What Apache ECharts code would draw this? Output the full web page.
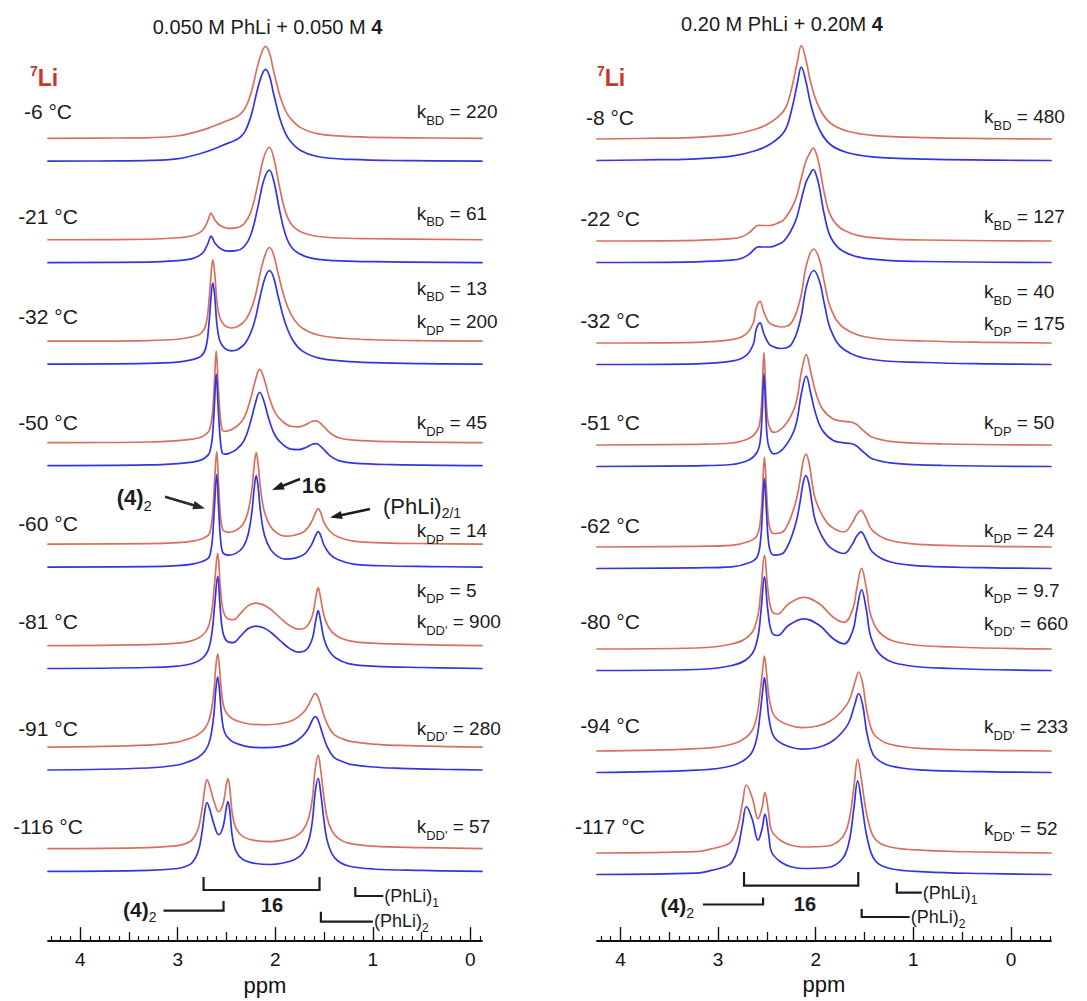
<!DOCTYPE html>
<html>
<head>
<meta charset="utf-8">
<title>7Li NMR spectra</title>
<script src="https://cdn.jsdelivr.net/npm/echarts@6.0.0/dist/echarts.min.js"></script>
<style>
html,body{margin:0;padding:0;background:#ffffff;}
#chart{width:1087px;height:1001px;}
</style>
</head>
<body>
<div id="chart"></div>
<script>
// ================= DATA =================
// Panel titles: [plain part, bold part]
const TITLE_A = ['0.050 M PhLi + 0.050 M ', '4'];
const TITLE_B = ['0.20 M PhLi + 0.20M ', '4'];

// x-axis tick labels (ppm)
const AXIS_LABELS = [0, 1, 2, 3, 4];
const MAJOR_TICKS = [0, 1, 2, 3, 4];
const MID_TICKS = [0.5, 1.5, 2.5, 3.5];

// temperatures (top to bottom)
const TEMPS_A = ['-6 °C', '-21 °C', '-32 °C', '-50 °C', '-60 °C', '-81 °C', '-91 °C', '-116 °C'];
const TEMPS_B = ['-8 °C', '-22 °C', '-32 °C', '-51 °C', '-62 °C', '-80 °C', '-94 °C', '-117 °C'];

// rate constants [subscript, value] per spectrum
const RATES_A = [[['BD', '220']], [['BD', '61']], [['BD', '13'], ['DP', '200']], [['DP', '45']],
                 [['DP', '14']], [['DP', '5'], ["DD'", '900']], [["DD'", '280']], [["DD'", '57']]];
const RATES_B = [[['BD', '480']], [['BD', '127']], [['BD', '40'], ['DP', '175']], [['DP', '50']],
                 [['DP', '24']], [['DP', '9.7'], ["DD'", '660']], [["DD'", '233']], [["DD'", '52']]];

// spectra: [ppm, intensity] pairs (intensity relative to each trace's own baseline)
// ---- left panel (0.050 M) ----
const A_M6 = [[4.33,0],[3.6,0.3],[3.28,0.7],[3.01,2.3],[2.84,5.7],[2.70,9.7],[2.56,15],[2.46,19],[2.40,21.5],[2.35,25],[2.31,30],[2.27,39],[2.23,52],[2.19,69],[2.14,86],[2.10,92.3],[2.06,86],[2.02,69],[1.98,53],[1.95,42],[1.90,29],[1.85,20.7],[1.74,10.7],[1.57,4.7],[1.23,1.7],[0.6,0.5],[-0.12,0]];
const A_M21 = [[4.33,0],[3.3,0.5],[3.0,2],[2.85,4],[2.75,9],[2.70,17],[2.68,22],[2.66,26.7],[2.64,24],[2.62,20],[2.56,14],[2.48,11.5],[2.40,12],[2.32,16],[2.25,28],[2.18,55],[2.12,82],[2.06,93],[2.01,80],[1.95,50],[1.88,24],[1.80,12],[1.65,5],[1.40,2],[1.0,1],[-0.12,0]];
const A_M32 = [[4.33,0],[3.3,0.7],[3.0,2],[2.85,4.5],[2.76,8],[2.71,17],[2.68,40],[2.66,65],[2.64,81.7],[2.62,68],[2.60,42],[2.57,24],[2.52,16],[2.45,13.3],[2.38,15],[2.30,22],[2.22,40],[2.15,70],[2.10,88],[2.06,94],[2.02,88],[1.97,68],[1.90,42],[1.82,24],[1.72,13],[1.55,6],[1.30,3],[1.0,1.5],[0.5,0.5],[-0.12,0]];
const A_M50 = [[4.33,0],[3.3,0.7],[3.0,2],[2.85,3.5],[2.75,6],[2.685,11],[2.665,16],[2.645,28],[2.625,58],[2.605,92],[2.585,58],[2.565,28],[2.545,13],[2.52,11.5],[2.48,12],[2.40,16],[2.32,25],[2.25,45],[2.20,64],[2.16,73.7],[2.12,66],[2.06,45],[2.00,30],[1.92,21],[1.84,16.5],[1.76,16],[1.68,18.5],[1.62,21.5],[1.58,22],[1.52,18],[1.44,10],[1.35,5],[1.2,2.5],[0.8,1],[-0.12,0]];
const A_M60 = [[4.33,0],[3.3,0.5],[3.0,1.5],[2.85,3],[2.75,5.5],[2.685,9],[2.665,14],[2.645,27],[2.625,58],[2.60,93],[2.58,58],[2.56,27],[2.54,15],[2.51,12.5],[2.47,12],[2.40,14],[2.33,20],[2.28,32],[2.24,55],[2.215,80],[2.195,92],[2.175,80],[2.15,55],[2.11,32],[2.05,18],[1.98,11],[1.90,8],[1.80,9],[1.70,13],[1.63,22],[1.585,32],[1.56,35.7],[1.535,32],[1.50,22],[1.44,13],[1.36,7.5],[1.2,3],[0.9,1.3],[0.4,0.5],[-0.12,0]];
const A_M81 = [[4.33,0],[3.3,1],[3.0,2.5],[2.85,5],[2.75,10],[2.69,18],[2.65,35],[2.62,65],[2.59,92.7],[2.565,62],[2.54,38],[2.50,28],[2.43,26],[2.36,32],[2.28,40],[2.20,42.7],[2.12,41],[2.04,36],[1.95,28],[1.85,20],[1.76,16.5],[1.68,19],[1.62,30],[1.585,48],[1.56,58.3],[1.535,48],[1.50,30],[1.45,18],[1.38,10.5],[1.25,5],[1.0,2.5],[0.5,1],[-0.12,0]];
const A_M91 = [[4.33,0],[3.3,2],[3.0,5],[2.9,8],[2.8,12],[2.72,19],[2.67,30],[2.63,55],[2.61,80],[2.59,93.7],[2.57,78],[2.55,55],[2.52,38],[2.46,30],[2.38,26],[2.25,23],[2.10,22.5],[1.95,23.5],[1.82,27],[1.72,34],[1.66,42],[1.62,50],[1.59,53.7],[1.56,50],[1.52,38],[1.47,24],[1.40,13],[1.30,8],[1.23,5.7],[1.0,3],[0.72,1.7],[0.2,0.5],[-0.12,0]];
const A_M116 = [[4.33,0],[3.3,1],[3.0,3],[2.92,5],[2.85,9],[2.79,20],[2.75,40],[2.72,62],[2.70,69.3],[2.67,62],[2.63,48],[2.58,37],[2.535,45],[2.50,65],[2.485,70.3],[2.465,60],[2.44,35],[2.40,20],[2.33,12],[2.20,8],[2.05,7],[1.92,8.5],[1.80,12],[1.72,18],[1.66,30],[1.62,50],[1.59,80],[1.56,93.7],[1.535,80],[1.505,55],[1.47,32],[1.42,18],[1.35,10],[1.25,5.5],[1.0,2.5],[0.5,1],[-0.12,0]];

// ---- right panel (0.20 M) ----
const B_M8 = [[4.24,0],[3.6,0.8],[3.22,1.7],[2.86,4.3],[2.61,10],[2.46,16.7],[2.32,29.3],[2.25,49.3],[2.19,76],[2.147,93.3],[2.10,79],[2.05,56],[1.97,32.7],[1.85,16],[1.67,7.7],[1.42,3.7],[0.88,1.3],[0.2,0.4],[-0.41,0]];
const B_M22 = [[4.24,0],[3.22,0.7],[2.86,2.3],[2.75,4.5],[2.68,8.5],[2.63,13],[2.59,15.7],[2.54,15.5],[2.47,15.5],[2.40,17.5],[2.32,22],[2.21,40.7],[2.15,62],[2.10,80],[2.06,88],[2.025,93],[1.99,86],[1.96,74],[1.91,47],[1.84,24],[1.71,10.7],[1.42,3.3],[0.88,1],[-0.41,0]];
const B_M32 = [[4.24,0],[3.22,0.7],[2.86,3.3],[2.72,8.3],[2.64,20],[2.61,35],[2.57,41.7],[2.535,32],[2.50,24],[2.46,19],[2.355,16],[2.25,20],[2.16,43.3],[2.09,80],[2.02,94],[1.96,83],[1.91,60],[1.84,33.3],[1.71,15],[1.42,5],[0.88,2],[0.2,0.6],[-0.41,0]];
const B_M51 = [[4.24,0],[3.22,0.7],[2.86,2],[2.68,6.7],[2.60,14.3],[2.57,24],[2.55,50],[2.53,92.7],[2.51,50],[2.49,24],[2.46,15],[2.43,12.7],[2.32,19.3],[2.21,39.3],[2.147,72.7],[2.097,90.3],[2.05,72.7],[2.00,52.7],[1.93,36],[1.82,26],[1.71,23.7],[1.64,23],[1.58,20.5],[1.53,16],[1.47,11],[1.42,7.7],[1.24,3.7],[0.7,1],[-0.41,0]];
const B_M62 = [[4.24,0],[3.22,0.7],[2.86,1.7],[2.68,5.7],[2.60,11.7],[2.565,28],[2.545,58],[2.525,90],[2.505,58],[2.485,28],[2.46,16],[2.42,13.3],[2.32,16.7],[2.21,43],[2.16,66.7],[2.13,85],[2.10,93],[2.07,85],[2.04,66.7],[2.00,46.7],[1.89,25],[1.78,16.7],[1.71,15],[1.62,25],[1.585,31.7],[1.535,36.7],[1.49,30],[1.42,16.7],[1.24,6.7],[0.88,2.3],[0.3,0.8],[-0.41,0]];
const B_M80 = [[4.24,0],[3.22,1],[2.86,5],[2.68,13.3],[2.60,30],[2.56,60],[2.525,94],[2.49,60],[2.45,38.3],[2.39,35],[2.28,45],[2.12,51.7],[1.96,45],[1.82,31.7],[1.71,26.7],[1.62,40],[1.58,60],[1.53,80.7],[1.48,60],[1.43,32],[1.31,13.3],[1.06,5],[0.6,2],[-0.41,0]];
const B_M94 = [[4.24,0],[3.22,2.3],[2.86,6.7],[2.68,16.7],[2.61,31.7],[2.57,58],[2.545,80],[2.525,95],[2.505,80],[2.48,55],[2.44,38],[2.39,31.7],[2.28,26],[2.14,23.3],[1.98,25],[1.85,30],[1.75,38],[1.66,50],[1.60,68],[1.56,79],[1.52,68],[1.48,42],[1.44,25],[1.39,15],[1.24,6.7],[0.88,2.3],[0.3,0.8],[-0.41,0]];
const B_M117 = [[4.24,0],[3.22,1.3],[3.06,4.3],[2.92,8],[2.86,12],[2.80,25],[2.75,50],[2.71,68],[2.65,55.3],[2.59,34.3],[2.55,45.3],[2.52,60.3],[2.48,38.7],[2.45,22],[2.35,12],[2.25,7.7],[2.14,6],[1.88,7],[1.73,15.3],[1.66,32],[1.61,65.3],[1.57,93.7],[1.53,72],[1.47,35.3],[1.39,13.7],[1.24,6],[0.88,2.7],[0.3,1],[-0.41,0]];

const SPECTRA_A = [A_M6, A_M21, A_M32, A_M50, A_M60, A_M81, A_M91, A_M116];
const SPECTRA_B = [B_M8, B_M22, B_M32, B_M51, B_M62, B_M80, B_M94, B_M117];

// ================= LAYOUT & STYLE =================
const FONT = '"Liberation Sans", Arial, Helvetica, sans-serif';
const INK = '#1c1c1c';
const RED = '#d8705f';
const BLUE = '#3535e0';
const LI_RED = '#c9362b';

const PANELS = [
  { left: 48, right: 1087 - 482, axisY: 946, xMin: -0.12, xMax: 4.33,
    redTop: 139, step: 102, gap: 23,
    title: TITLE_A, titleX: 267.5, titleY: 26.5,
    liX: 30, liY: 78,
    temps: TEMPS_A, tempX: 48, tempY: [111.7, 216.7, 316, 422.7, 523.3, 621.7, 728.3, 826],
    rates: RATES_A, rateX: 416.7, rateY: [[111.7], [213], [288.3, 321.7], [422.7], [530.5], [590, 621.7], [728], [826.7]],
    spectra: SPECTRA_A,
    br16: { ppm: [2.735, 1.546], yTop: 877, yBot: 890, labelPpm: 2.034, labelY: 905 },
    br4: { ppm: [3.146, 2.530], y: 910.7, yTick: 901, labelGap: 7, labelY: 909 },
    brP1: { ppm: 1.179, yTop: 887, yBot: 896, len: 28, labelY: 896 },
    brP2: { ppm: 1.532, yTop: 911.7, yBot: 921.7, len: 52, labelY: 921 } },
  { left: 597, right: 1087 - 1051, axisY: 941, xMin: -0.41, xMax: 4.24,
    redTop: 139, step: 102, gap: 21.5,
    title: TITLE_B, titleX: 782, titleY: 24,
    liX: 597, liY: 78.3,
    temps: TEMPS_B, tempX: 610, tempY: [117.5, 218, 320, 422.7, 525, 621.7, 725, 826],
    rates: RATES_B, rateX: 984, rateY: [[116.7], [216.7], [291.7, 323.3], [422.7], [530], [590, 623.3], [726.7], [828.3]],
    spectra: SPECTRA_B,
    br16: { ppm: [2.734, 1.564], yTop: 872, yBot: 885.7, labelPpm: 2.11, labelY: 904 },
    br4: { ppm: [3.155, 2.539], y: 904.5, yTick: 897.5, labelGap: 9, labelY: 905 },
    brP1: { ppm: 1.169, yTop: 882.7, yBot: 892.7, len: 25, labelY: 892.5 },
    brP2: { ppm: 1.529, yTop: 909, yBot: 917, len: 48, labelY: 916.5 } }
];

function minorTicks(min, max) {
  const out = [];
  for (let k = Math.ceil(min * 10); k <= Math.floor(max * 10); k++) {
    if (k % 5 !== 0) out.push(k / 10);
  }
  return out;
}

// ================= OPTION =================
const grids = [], xAxes = [], yAxes = [], series = [];
PANELS.forEach((P, p) => {
  grids.push({ left: P.left, right: P.right, top: 0, bottom: 1001 - P.axisY, containLabel: false });
  const base = { type: 'value', gridIndex: p, min: P.xMin, max: P.xMax, inverse: true, position: 'bottom',
                 splitLine: { show: false }, axisPointer: { show: false } };
  xAxes.push(Object.assign({}, base, {
    axisLine: { show: true, onZero: false, lineStyle: { color: '#111', width: 1.8 } },
    axisTick: { show: true, inside: true, length: 14, customValues: MAJOR_TICKS, lineStyle: { color: '#111', width: 1.4 } },
    axisLabel: { show: true, customValues: AXIS_LABELS, margin: 9, fontSize: 19, color: '#111', fontFamily: FONT },
    name: 'ppm', nameLocation: 'middle', nameGap: 29,
    nameTextStyle: { fontSize: 22, color: '#111', fontFamily: FONT }
  }));
  xAxes.push(Object.assign({}, base, {
    axisLine: { show: false, onZero: false },
    axisTick: { show: true, inside: true, length: 9, customValues: MID_TICKS, lineStyle: { color: '#111', width: 1.3 } },
    axisLabel: { show: false }
  }));
  xAxes.push(Object.assign({}, base, {
    axisLine: { show: false, onZero: false },
    axisTick: { show: true, inside: true, length: 5, customValues: minorTicks(P.xMin, P.xMax), lineStyle: { color: '#111', width: 1.2 } },
    axisLabel: { show: false }
  }));
  yAxes.push({ type: 'value', gridIndex: p, min: 0, max: P.axisY, show: false });

  P.spectra.forEach((shape, i) => {
    const redOff = P.axisY - (P.redTop + P.step * i);
    const blueOff = redOff - P.gap;
    [[redOff, RED, 2], [blueOff, BLUE, 3]].forEach(([off, color, z]) => {
      series.push({
        type: 'line', xAxisIndex: p * 3, yAxisIndex: p, z: z,
        data: shape.map(pt => [pt[0], off + pt[1]]),
        showSymbol: false, symbol: 'none', smooth: 0.4,
        lineStyle: { color: color, width: 1.7, join: 'round', cap: 'round' }, itemStyle: { color: color },
        silent: true, animation: false, clip: false
      });
    });
  });
});

const chart = echarts.init(document.getElementById('chart'), null, { renderer: 'svg' });
chart.setOption({
  backgroundColor: '#ffffff',
  animation: false,
  grid: grids, xAxis: xAxes, yAxis: yAxes, series: series
});

// ================= ANNOTATIONS =================
// parts: [text, fontSize, fontWeight, verticalShift, color]
function richText(x, y, parts, align) {
  let c0 = 0;
  parts.forEach(pt => { c0 = Math.max(c0, pt[1] / 2 - (pt[3] || 0)); });
  const rich = {};
  let s = '';
  parts.forEach((pt, i) => {
    const padTop = c0 + (pt[3] || 0) - pt[1] / 2;
    rich['t' + i] = { fontSize: pt[1], fontWeight: pt[2] || 'normal', lineHeight: pt[1],
                      padding: [padTop, 0, 0, 0], verticalAlign: 'top',
                      fill: pt[4] || INK, fontFamily: FONT };
    s += '{t' + i + '|' + pt[0] + '}';
  });
  return { type: 'text', x: x, y: y - c0, silent: true, z: 10,
           style: { text: s, rich: rich, textAlign: align || 'left', textVerticalAlign: 'top', fill: INK, fontFamily: FONT } };
}
function poly(points, width) {
  return { type: 'polyline', silent: true, z: 10, shape: { points: points },
           style: { stroke: INK, lineWidth: width || 2, fill: null } };
}
function arrow(x1, y1, x2, y2, color) {
  const dx = x2 - x1, dy = y2 - y1, L = Math.hypot(dx, dy), ux = dx / L, uy = dy / L;
  const hl = 12, hw = 4.2;
  const bx = x2 - ux * hl, by = y2 - uy * hl;
  return [
    { type: 'line', silent: true, z: 10, shape: { x1: x1, y1: y1, x2: bx + ux * 2, y2: by + uy * 2 },
      style: { stroke: color, lineWidth: 2.6 } },
    { type: 'polygon', silent: true, z: 10,
      shape: { points: [[x2, y2], [bx - uy * hw, by + ux * hw], [bx + uy * hw, by - ux * hw]] },
      style: { fill: color } }
  ];
}

const g = [];
PANELS.forEach((P, p) => {
  const px = v => chart.convertToPixel({ xAxisIndex: p * 3 }, v);
  // title
  g.push(richText(P.titleX, P.titleY, [[P.title[0], 20], [P.title[1], 20, 'bold']], 'center'));
  // 7Li
  g.push(richText(P.liX, P.liY, [['7', 14, 'bold', -7, LI_RED], ['Li', 23, 'bold', 0, LI_RED]], 'left'));
  // temperatures
  P.temps.forEach((t, i) => g.push(richText(P.tempX, P.tempY[i], [[t, 21]], 'center')));
  // rate constants
  P.rates.forEach((lst, i) => {
    lst.forEach((r, j) => {
      g.push(richText(P.rateX, P.rateY[i][j], [['k', 19], [r[0], 13, 'normal', 8.5], [' = ' + r[1], 19]], 'left'));
    });
  });
  // bracket for 16
  const b = P.br16, xa = px(b.ppm[0]), xb = px(b.ppm[1]);
  g.push(poly([[xa, b.yTop], [xa, b.yBot], [xb, b.yBot], [xb, b.yTop]], 2.2));
  g.push(richText(px(b.labelPpm), b.labelY, [['16', 20, 'bold']], 'center'));
  // (4)2 line
  const c = P.br4, xc = px(c.ppm[0]), xd = px(c.ppm[1]);
  g.push(poly([[xc, c.y], [xd, c.y], [xd, c.yTick]], 2.2));
  g.push(richText(xc - c.labelGap, c.labelY, [['(4)', 21, 'bold'], ['2', 14, 'normal', 8]], 'right'));
  // (PhLi)1
  const e = P.brP1, xe = px(e.ppm);
  g.push(poly([[xe, e.yTop], [xe, e.yBot], [xe + e.len, e.yBot]], 2.2));
  g.push(richText(xe + e.len + 1, e.labelY, [['(PhLi)', 18], ['1', 12, 'normal', 7]], 'left'));
  // (PhLi)2
  const f = P.brP2, xf = px(f.ppm);
  g.push(poly([[xf, f.yTop], [xf, f.yBot], [xf + f.len, f.yBot]], 2.2));
  g.push(richText(xf + f.len + 1, f.labelY, [['(PhLi)', 18], ['2', 12, 'normal', 7]], 'left'));
});

// peak assignments with arrows (left panel, -60 °C)
g.push(richText(116.7, 497, [['(4)', 22, 'bold'], ['2', 15, 'normal', 8]], 'left'));
arrow(165, 496.7, 205, 508.5, '#2a2a2a').forEach(el => g.push(el));
g.push(richText(301.7, 485, [['16', 22, 'bold']], 'left'));
arrow(300, 479, 272, 490, INK).forEach(el => g.push(el));
g.push(richText(383, 506, [['(PhLi)', 22], ['2/1', 14, 'normal', 7]], 'left'));
arrow(370, 509, 330, 517.5, INK).forEach(el => g.push(el));

chart.setOption({ graphic: g });
</script>
</body>
</html>
